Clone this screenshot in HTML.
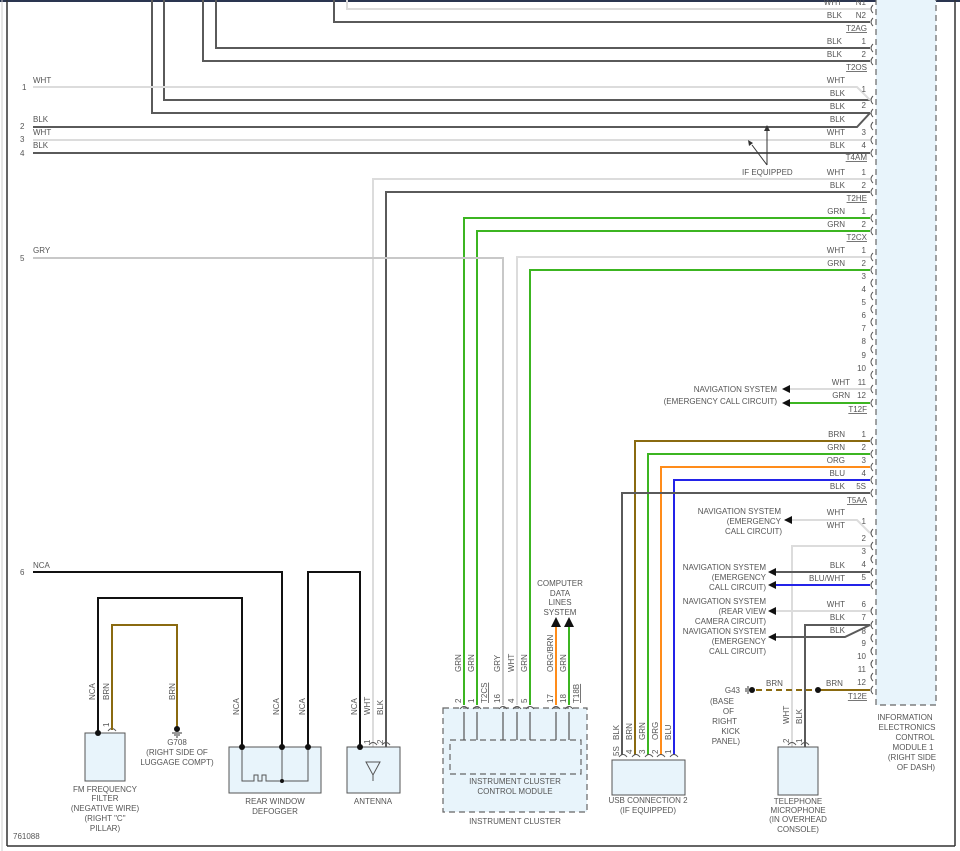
<!DOCTYPE html>
<html><head><meta charset="utf-8"><style>
body{margin:0;background:#fff}
svg{display:block;font-family:"Liberation Sans",sans-serif;font-size:8px;fill:#555}
.d{stroke:#5a5a5a;stroke-width:2;fill:none}
.l{stroke:#dcdcdc;stroke-width:2;fill:none}
.g{stroke:#3cb521;stroke-width:2;fill:none}
.k{stroke:#111;stroke-width:2;fill:none}
.y{stroke:#c8c8c8;stroke-width:2;fill:none}
.o{stroke:#ff8c1a;stroke-width:2;fill:none}
.b{stroke:#2323e8;stroke-width:2;fill:none}
.n{stroke:#8a6a10;stroke-width:2;fill:none}
.br{stroke:#555;stroke-width:1;fill:none}
.bx{fill:#e8f4fb;stroke:#555;stroke-width:1}
.ds{fill:#e8f4fb;stroke:#666;stroke-width:1.2;stroke-dasharray:6 4}
text{fill:#555}
.r{text-anchor:end}.m{text-anchor:middle}
</style></head><body>
<svg width="960" height="851" viewBox="0 0 960 851">
<rect x="0" y="0" width="960" height="2" fill="#2a3550"/>
<line x1="2" y1="0" x2="2" y2="851" stroke="#ccc"/>
<line x1="7" y1="0" x2="7" y2="846" stroke="#333" stroke-width="1.5"/>
<line x1="7" y1="846" x2="955" y2="846" stroke="#333" stroke-width="1.5"/>
<line x1="955" y1="0" x2="955" y2="846" stroke="#333" stroke-width="1.5"/>
<rect x="876" y="-5" width="60" height="710" class="ds"/>
<path class="l" d="M347,0V9H870"/>
<path class="d" d="M334,0V22H870"/>
<path class="d" d="M216,0V48H870"/>
<path class="d" d="M203,0V61H870"/>
<path class="d" d="M164,0V100H870"/>
<path class="d" d="M152,0V113H870"/>
<path class="l" d="M33,87H857L870,100"/>
<path class="d" d="M33,127H857L870,113"/>
<path class="l" d="M33,140H870"/>
<path class="d" d="M33,153H870"/>
<text x="22" y="90">1</text><text x="33" y="83">WHT</text>
<text x="20" y="129">2</text><text x="33" y="122">BLK</text>
<text x="20" y="142">3</text><text x="33" y="135">WHT</text>
<text x="20" y="156">4</text><text x="33" y="148">BLK</text>
<text x="20" y="261">5</text><text x="33" y="253">GRY</text>
<text x="20" y="575">6</text><text x="33" y="568">NCA</text>
<path stroke="#333" fill="none" d="M767,165V130M767,165L752,145"/>
<path fill="#333" d="M764,131L767,125L770,131ZM749,146L748,140L753,143Z"/>
<text x="742" y="175">IF EQUIPPED</text>
<path class="l" d="M373,747V179H870"/>
<path class="d" d="M386,747V192H870"/>
<path class="g" d="M464,705V218H870"/>
<path class="g" d="M477,705V231H870"/>
<path class="y" d="M33,258H503V705"/>
<path class="l" d="M517,705V257H870"/>
<path class="g" d="M530,705V270H870"/>
<path class="l" d="M785,389H870"/>
<path class="g" d="M785,403H870"/>
<path fill="#111" d="M782,389L790,385V393ZM782,403L790,399V407Z"/>
<text x="777" y="392" class="r">NAVIGATION SYSTEM</text>
<text x="777" y="404" class="r">(EMERGENCY CALL CIRCUIT)</text>
<path class="n" d="M635,755V441H870"/>
<path class="g" d="M648,755V454H870"/>
<path class="o" d="M661,755V467H870"/>
<path class="b" d="M674,755V480H870"/>
<path class="d" d="M622,755V493H870"/>
<rect x="612" y="760" width="73" height="35" class="bx"/>
<text x="648" y="803" class="m">USB CONNECTION 2</text>
<text x="648" y="813" class="m">(IF EQUIPPED)</text>
<path class="l" d="M785,520H857L870,533"/>
<path class="l" d="M792,747V546H870"/>
<path class="d" d="M775,572H870"/>
<path class="b" d="M775,585H870"/>
<path class="l" d="M775,611H870"/>
<path class="d" d="M805,747V625H870"/>
<path class="d" d="M775,637H845L870,625"/>
<path fill="#111" d="M784,520L792,516V524ZM768,572L776,568V576ZM768,585L776,581V589ZM768,611L776,607V615ZM768,637L776,633V641Z"/>
<text x="781" y="514" class="r">NAVIGATION SYSTEM</text><text x="781" y="524" class="r">(EMERGENCY</text><text x="782" y="534" class="r">CALL CIRCUIT)</text>
<text x="766" y="570" class="r">NAVIGATION SYSTEM</text><text x="766" y="580" class="r">(EMERGENCY</text><text x="766" y="590" class="r">CALL CIRCUIT)</text>
<text x="766" y="604" class="r">NAVIGATION SYSTEM</text><text x="766" y="614" class="r">(REAR VIEW</text><text x="766" y="624" class="r">CAMERA CIRCUIT)</text>
<text x="766" y="634" class="r">NAVIGATION SYSTEM</text><text x="766" y="644" class="r">(EMERGENCY</text><text x="766" y="654" class="r">CALL CIRCUIT)</text>
<path class="n" d="M756,690H818" stroke-dasharray="6 4"/>
<path class="n" d="M818,690H870"/>
<circle cx="752" cy="690" r="3" fill="#111"/><circle cx="818" cy="690" r="3" fill="#111"/>
<path stroke="#333" d="M748,686V694M746,688V692"/>
<text x="766" y="686">BRN</text><text x="826" y="686">BRN</text>
<text x="740" y="693" class="r">G43</text>
<text x="734" y="704" class="r">(BASE</text><text x="734" y="714" class="r">OF</text><text x="737" y="724" class="r">RIGHT</text><text x="740" y="734" class="r">KICK</text><text x="740" y="744" class="r">PANEL)</text>
<rect x="778" y="747" width="40" height="48" class="bx"/>
<text x="798" y="804" class="m">TELEPHONE</text><text x="798" y="813" class="m">MICROPHONE</text><text x="798" y="822" class="m">(IN OVERHEAD</text><text x="798" y="832" class="m">CONSOLE)</text>
<text x="905" y="720" class="m">INFORMATION</text><text x="907" y="730" class="m">ELECTRONICS</text><text x="915" y="740" class="m">CONTROL</text><text x="913" y="750" class="m">MODULE 1</text><text x="912" y="760" class="m">(RIGHT SIDE</text><text x="916" y="770" class="m">OF DASH)</text>
<g>
<text x="842" y="5" class="r">WHT</text><text x="866" y="5" class="r">N1</text>
<text x="842" y="18" class="r">BLK</text><text x="866" y="18" class="r">N2</text>
<text x="842" y="44" class="r">BLK</text><text x="866" y="44" class="r">1</text>
<text x="842" y="57" class="r">BLK</text><text x="866" y="57" class="r">2</text>
<text x="845" y="83" class="r">WHT</text><text x="866" y="92" class="r">1</text>
<text x="845" y="96" class="r">BLK</text>
<text x="845" y="109" class="r">BLK</text><text x="866" y="108" class="r">2</text>
<text x="845" y="122" class="r">BLK</text>
<text x="845" y="135" class="r">WHT</text><text x="866" y="135" class="r">3</text>
<text x="845" y="148" class="r">BLK</text><text x="866" y="148" class="r">4</text>
<text x="845" y="175" class="r">WHT</text><text x="866" y="175" class="r">1</text>
<text x="845" y="188" class="r">BLK</text><text x="866" y="188" class="r">2</text>
<text x="845" y="214" class="r">GRN</text><text x="866" y="214" class="r">1</text>
<text x="845" y="227" class="r">GRN</text><text x="866" y="227" class="r">2</text>
<text x="845" y="253" class="r">WHT</text><text x="866" y="253" class="r">1</text>
<text x="845" y="266" class="r">GRN</text><text x="866" y="266" class="r">2</text>
<text x="866" y="279" class="r">3</text><text x="866" y="292" class="r">4</text><text x="866" y="305" class="r">5</text><text x="866" y="318" class="r">6</text><text x="866" y="331" class="r">7</text><text x="866" y="344" class="r">8</text><text x="866" y="358" class="r">9</text><text x="866" y="371" class="r">10</text>
<text x="850" y="385" class="r">WHT</text><text x="866" y="385" class="r">11</text>
<text x="850" y="398" class="r">GRN</text><text x="866" y="398" class="r">12</text>
<text x="845" y="437" class="r">BRN</text><text x="866" y="437" class="r">1</text>
<text x="845" y="450" class="r">GRN</text><text x="866" y="450" class="r">2</text>
<text x="845" y="463" class="r">ORG</text><text x="866" y="463" class="r">3</text>
<text x="845" y="476" class="r">BLU</text><text x="866" y="476" class="r">4</text>
<text x="845" y="489" class="r">BLK</text><text x="866" y="489" class="r">5S</text>
<text x="845" y="515" class="r">WHT</text><text x="866" y="524" class="r">1</text>
<text x="845" y="528" class="r">WHT</text><text x="866" y="541" class="r">2</text><text x="866" y="554" class="r">3</text>
<text x="845" y="568" class="r">BLK</text><text x="866" y="567" class="r">4</text>
<text x="845" y="581" class="r">BLU/WHT</text><text x="866" y="580" class="r">5</text>
<text x="845" y="607" class="r">WHT</text><text x="866" y="607" class="r">6</text>
<text x="845" y="620" class="r">BLK</text><text x="866" y="620" class="r">7</text>
<text x="845" y="633" class="r">BLK</text><text x="866" y="634" class="r">8</text><text x="866" y="646" class="r">9</text><text x="866" y="659" class="r">10</text><text x="866" y="672" class="r">11</text><text x="866" y="685" class="r">12</text>
</g>
<g text-decoration="underline">
<text x="867" y="31" class="r">T2AG</text><text x="867" y="70" class="r">T2OS</text><text x="867" y="160" class="r">T4AM</text><text x="867" y="201" class="r">T2HE</text><text x="867" y="240" class="r">T2CX</text><text x="867" y="412" class="r">T12F</text><text x="867" y="503" class="r">T5AA</text><text x="867" y="699" class="r">T12E</text>
</g>
<path class="br" d="M873,5q-4,4 0,8M873,18q-4,4 0,8M873,44q-4,4 0,8M873,57q-4,4 0,8M873,96q-4,4 0,8M873,109q-4,4 0,8M873,122q-4,4 0,8M873,136q-4,4 0,8M873,149q-4,4 0,8M873,175q-4,4 0,8M873,188q-4,4 0,8M873,214q-4,4 0,8M873,227q-4,4 0,8M873,253q-4,4 0,8M873,266q-4,4 0,8M873,279q-4,4 0,8M873,292q-4,4 0,8M873,305q-4,4 0,8M873,318q-4,4 0,8M873,332q-4,4 0,8M873,345q-4,4 0,8M873,358q-4,4 0,8M873,371q-4,4 0,8M873,385q-4,4 0,8M873,399q-4,4 0,8M873,437q-4,4 0,8M873,450q-4,4 0,8M873,463q-4,4 0,8M873,476q-4,4 0,8M873,489q-4,4 0,8M873,529q-4,4 0,8M873,542q-4,4 0,8M873,555q-4,4 0,8M873,568q-4,4 0,8M873,581q-4,4 0,8M873,607q-4,4 0,8M873,621q-4,4 0,8M873,634q-4,4 0,8M873,647q-4,4 0,8M873,660q-4,4 0,8M873,673q-4,4 0,8M873,686q-4,4 0,8"/>
<rect x="443" y="708" width="144" height="104" class="ds"/>
<rect x="450" y="740" width="131" height="34" class="ds"/>
<path class="o" d="M556,705V625"/><path class="g" d="M569,705V625"/>
<path fill="#111" d="M551,627L556,617L561,627ZM564,627L569,617L574,627Z"/>
<text x="560" y="586" class="m">COMPUTER</text><text x="560" y="596" class="m">DATA</text><text x="560" y="605" class="m">LINES</text><text x="560" y="615" class="m">SYSTEM</text>
<path stroke="#555" stroke-width="1.2" d="M464,740V712M477,740V712M503,740V712M517,740V712M530,740V712M556,740V712M569,740V712"/>
<path class="br" d="M460,709q4,-5 8,0M473,709q4,-5 8,0M499,709q4,-5 8,0M513,709q4,-5 8,0M526,709q4,-5 8,0M552,709q4,-5 8,0M565,709q4,-5 8,0"/>
<text x="515" y="784" class="m">INSTRUMENT CLUSTER</text><text x="515" y="794" class="m">CONTROL MODULE</text>
<text x="515" y="824" class="m">INSTRUMENT CLUSTER</text>
<g>
<text transform="translate(461,672) rotate(-90)">GRN</text>
<text transform="translate(474,672) rotate(-90)">GRN</text>
<text transform="translate(500,672) rotate(-90)">GRY</text>
<text transform="translate(514,672) rotate(-90)">WHT</text>
<text transform="translate(527,672) rotate(-90)">GRN</text>
<text transform="translate(553,672) rotate(-90)">ORG/BRN</text>
<text transform="translate(566,672) rotate(-90)">GRN</text>
<text transform="translate(461,703) rotate(-90)">2</text>
<text transform="translate(474,703) rotate(-90)">1</text>
<text transform="translate(487,703) rotate(-90)" text-decoration="underline">T2CS</text>
<text transform="translate(500,703) rotate(-90)">16</text>
<text transform="translate(514,703) rotate(-90)">4</text>
<text transform="translate(527,703) rotate(-90)">5</text>
<text transform="translate(553,703) rotate(-90)">17</text>
<text transform="translate(566,703) rotate(-90)">18</text>
<text transform="translate(579,703) rotate(-90)" text-decoration="underline">T18B</text>
<text transform="translate(619,740) rotate(-90)">BLK</text><text transform="translate(632,740) rotate(-90)">BRN</text><text transform="translate(645,740) rotate(-90)">GRN</text><text transform="translate(658,740) rotate(-90)">ORG</text><text transform="translate(671,740) rotate(-90)">BLU</text>
<text transform="translate(619,756) rotate(-90)">5S</text><text transform="translate(632,754) rotate(-90)">4</text><text transform="translate(645,754) rotate(-90)">3</text><text transform="translate(658,754) rotate(-90)">2</text><text transform="translate(671,754) rotate(-90)">1</text>
<text transform="translate(789,724) rotate(-90)">WHT</text><text transform="translate(802,724) rotate(-90)">BLK</text>
<text transform="translate(789,743) rotate(-90)">2</text><text transform="translate(802,743) rotate(-90)">1</text>
<text transform="translate(95,700) rotate(-90)">NCA</text><text transform="translate(109,700) rotate(-90)">BRN</text><text transform="translate(109,727) rotate(-90)">1</text>
<text transform="translate(175,700) rotate(-90)">BRN</text>
<text transform="translate(239,715) rotate(-90)">NCA</text><text transform="translate(279,715) rotate(-90)">NCA</text><text transform="translate(305,715) rotate(-90)">NCA</text>
<text transform="translate(357,715) rotate(-90)">NCA</text><text transform="translate(370,715) rotate(-90)">WHT</text><text transform="translate(383,715) rotate(-90)">BLK</text>
<text transform="translate(370,744) rotate(-90)">1</text><text transform="translate(383,744) rotate(-90)">2</text>
</g>
<path class="br" d="M619,757q4,-5 8,0M632,757q4,-5 8,0M645,757q4,-5 8,0M657,757q4,-5 8,0M670,757q4,-5 8,0M788,745q4,-5 8,0M801,745q4,-5 8,0M369,745q4,-5 8,0M382,745q4,-5 8,0M108,731q4,-5 8,0"/>
<path class="k" d="M33,572H282V747"/>
<path class="k" d="M308,747V572H360V747"/>
<path class="k" d="M98,733V598H242V747"/>
<path class="n" d="M112,730V625H177V728"/>
<circle cx="177" cy="729" r="3" fill="#111"/><path stroke="#333" d="M172,733H182M174,735H180M176,737H178"/>
<text x="177" y="745" class="m">G708</text><text x="177" y="755" class="m">(RIGHT SIDE OF</text><text x="177" y="765" class="m">LUGGAGE COMPT)</text>
<rect x="85" y="733" width="40" height="48" class="bx"/>
<circle cx="98" cy="733" r="3" fill="#111"/>
<text x="105" y="792" class="m">FM FREQUENCY</text><text x="105" y="801" class="m">FILTER</text><text x="105" y="811" class="m">(NEGATIVE WIRE)</text><text x="105" y="821" class="m">(RIGHT "C"</text><text x="105" y="831" class="m">PILLAR)</text>
<rect x="229" y="747" width="92" height="46" class="bx"/>
<path stroke="#555" fill="none" d="M242,747V781H254V775H258V781H262V775H266V781H282M282,747V781H308V747"/>
<circle cx="242" cy="747" r="3" fill="#111"/><circle cx="282" cy="747" r="3" fill="#111"/><circle cx="308" cy="747" r="3" fill="#111"/><circle cx="282" cy="781" r="2" fill="#111"/>
<text x="275" y="804" class="m">REAR WINDOW</text><text x="275" y="814" class="m">DEFOGGER</text>
<rect x="347" y="747" width="53" height="46" class="bx"/>
<circle cx="360" cy="747" r="3" fill="#111"/>
<path stroke="#555" fill="none" d="M366,762H380L373,775ZM373,775V781"/>
<text x="373" y="804" class="m">ANTENNA</text>
<text x="13" y="839">761088</text>
</svg>
</body></html>
